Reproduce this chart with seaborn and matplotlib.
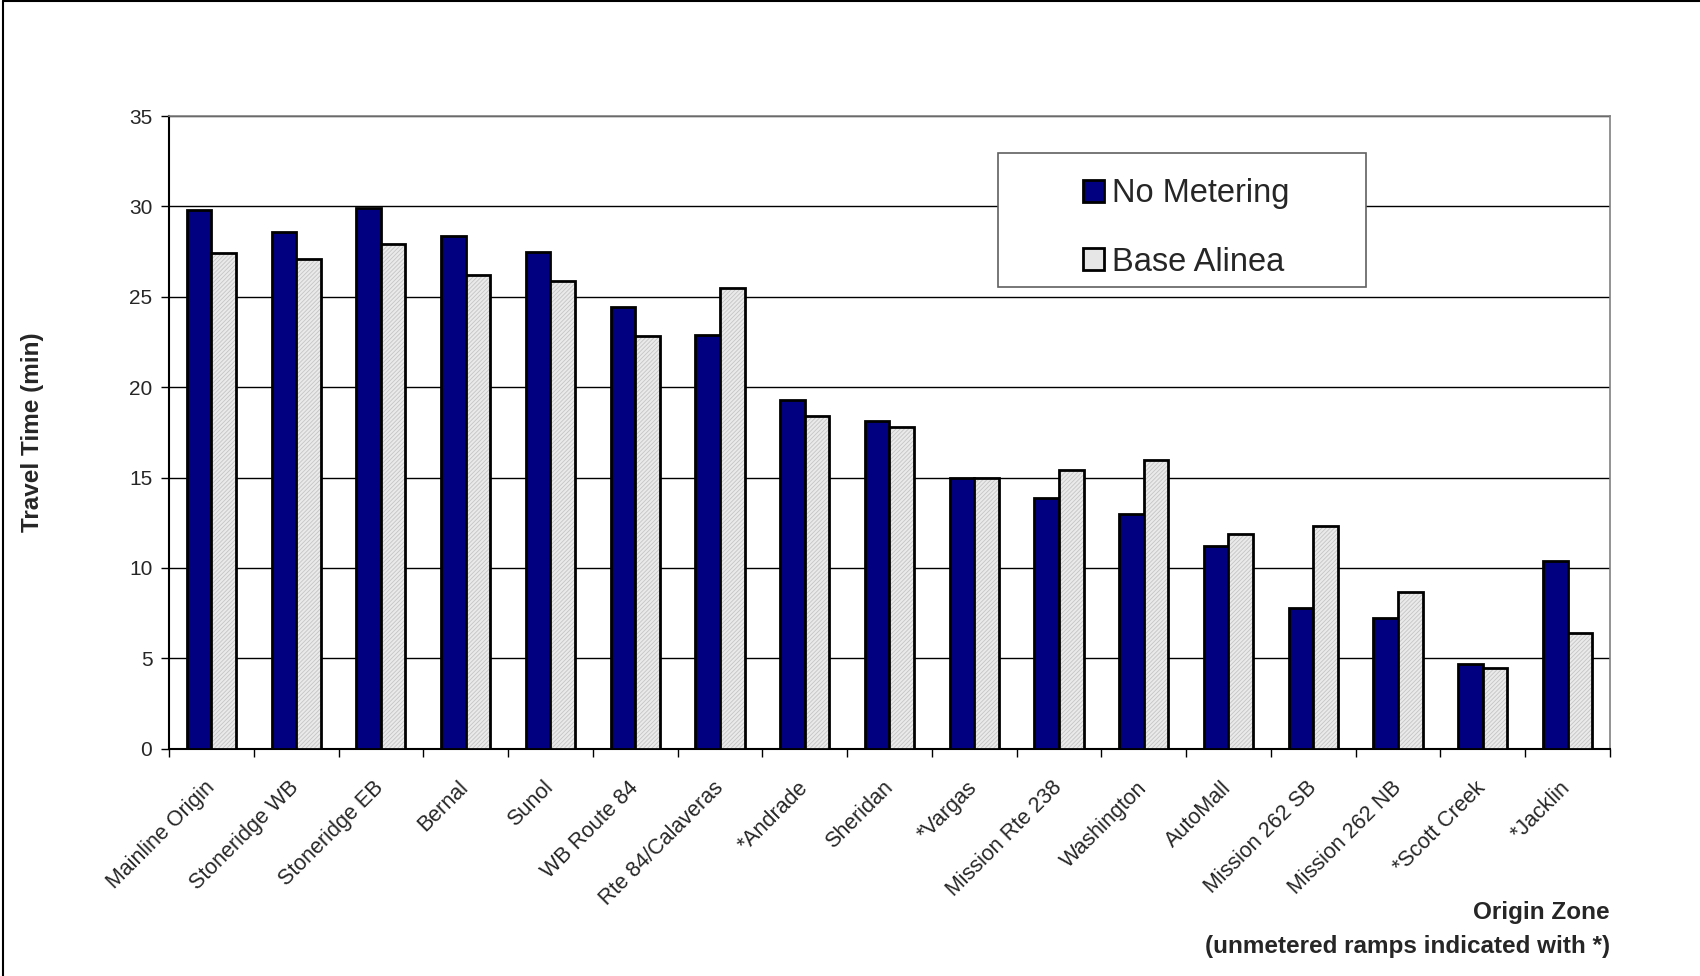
import numpy as np
import pandas as pd
import seaborn as sns
import matplotlib.pyplot as plt
from matplotlib.patches import Rectangle
from matplotlib.lines import Line2D

# data
zones = ["Mainline Origin", "Stoneridge WB", "Stoneridge EB", "Bernal", "Sunol",
         "WB Route 84", "Rte 84/Calaveras", "*Andrade", "Sheridan", "*Vargas",
         "Mission Rte 238", "Washington", "AutoMall", "Mission 262 SB",
         "Mission 262 NB", "*Scott Creek", "*Jacklin"]
no_metering = [29.8, 28.6, 29.9, 28.35, 27.5, 24.45, 22.9, 19.3, 18.15, 15.0,
               13.85, 13.0, 11.2, 7.8, 7.25, 4.7, 10.4]
base_alinea = [27.45, 27.1, 27.95, 26.2, 25.9, 22.85, 25.5, 18.4, 17.8, 15.0,
               15.4, 15.95, 11.9, 12.3, 8.65, 4.45, 6.4]
series = ["No Metering", "Base Alinea"]
y_ticks = [0, 5, 10, 15, 20, 25, 30, 35]

df = pd.DataFrame({
    "zone": zones * 2,
    "time": no_metering + base_alinea,
    "scenario": [series[0]] * len(zones) + [series[1]] * len(zones),
})

sns.set_style("white")
plt.rcParams['font.family'] = ['Liberation Sans', 'DejaVu Sans']
plt.rcParams['hatch.linewidth'] = 0.6

fig = plt.figure(figsize=(17, 9.76), dpi=100)
# frame only along top and left edges, like the source
fig.add_artist(Line2D([0.002, 0.002], [0, 0.999], color="black", lw=1.5))
fig.add_artist(Line2D([0.002, 1], [0.999, 0.999], color="black", lw=1.5))
ax = fig.add_axes([0.0994, 0.233, 0.8476, 0.648])

sns.barplot(data=df, x="zone", y="time", hue="scenario", order=zones,
            hue_order=series, palette=["#000080", "#eaeaea"], saturation=1,
            width=0.58, edgecolor="black", linewidth=2, legend=False, ax=ax,
            zorder=3)

# fine gray hatch on the Base Alinea bars, black outline on top
for p in ax.containers[1]:
    p.set_hatch("////////")
    p.set_edgecolor("#c4c4c4")
    p.set_linewidth(0)
    ax.add_patch(Rectangle(p.get_xy(), p.get_width(), p.get_height(),
                           fill=False, ec="black", lw=2, zorder=4))

ax.set_ylim(0, 35)
ax.set_xlim(-0.5, len(zones) - 0.5)
ax.set_yticks(y_ticks)
ax.yaxis.grid(True, color="black", linewidth=1)
ax.set_axisbelow(True)

# x tick marks sit between the groups
ax.set_xticks(np.arange(-0.5, len(zones), 1), minor=True)
ax.tick_params(axis="x", which="major", length=0, pad=26, labelsize=15.5)
ax.tick_params(axis="x", which="minor", length=6, width=1, direction="out",
               color="black", bottom=True)
ax.tick_params(axis="y", length=6, width=1, direction="out", color="black",
               left=True, labelsize=15, pad=6)
plt.setp(ax.get_xticklabels(), rotation=45, ha="right", va="center",
         rotation_mode="anchor")

for side in ["left", "bottom"]:
    ax.spines[side].set_color("black")
    ax.spines[side].set_linewidth(1.5)
for side in ["top", "right"]:
    ax.spines[side].set_color("#808080")
    ax.spines[side].set_linewidth(1.2)

ax.set_xlabel("")
ax.set_ylabel("Travel Time (min)", fontsize=17.5, fontweight="bold")
ax.yaxis.set_label_coords(-0.087, 0.5)
fig.text(0.947, 0.048, "Origin Zone\n(unmetered ramps indicated with *)",
         ha="right", va="center", fontsize=17.5, fontweight="bold",
         linespacing=1.6)

# legend box
ax.add_patch(Rectangle((0.575, 0.73), 0.256, 0.2115, transform=ax.transAxes,
                       facecolor="white", edgecolor="#606060", lw=1.2,
                       zorder=6))
handles = [Rectangle((0, 0), 1, 1, fc="#000080", ec="black", lw=2),
           Rectangle((0, 0), 1, 1, fc="#e6e6e6", ec="black", lw=2)]
leg = ax.legend(handles, series, loc="center", bbox_to_anchor=(0.706, 0.823),
                frameon=False, fontsize=23.5, handlelength=0.65,
                handleheight=0.65, handletextpad=0.25, labelspacing=1.15)
leg.set_zorder(7)

fig.savefig("out.png", dpi=100)
